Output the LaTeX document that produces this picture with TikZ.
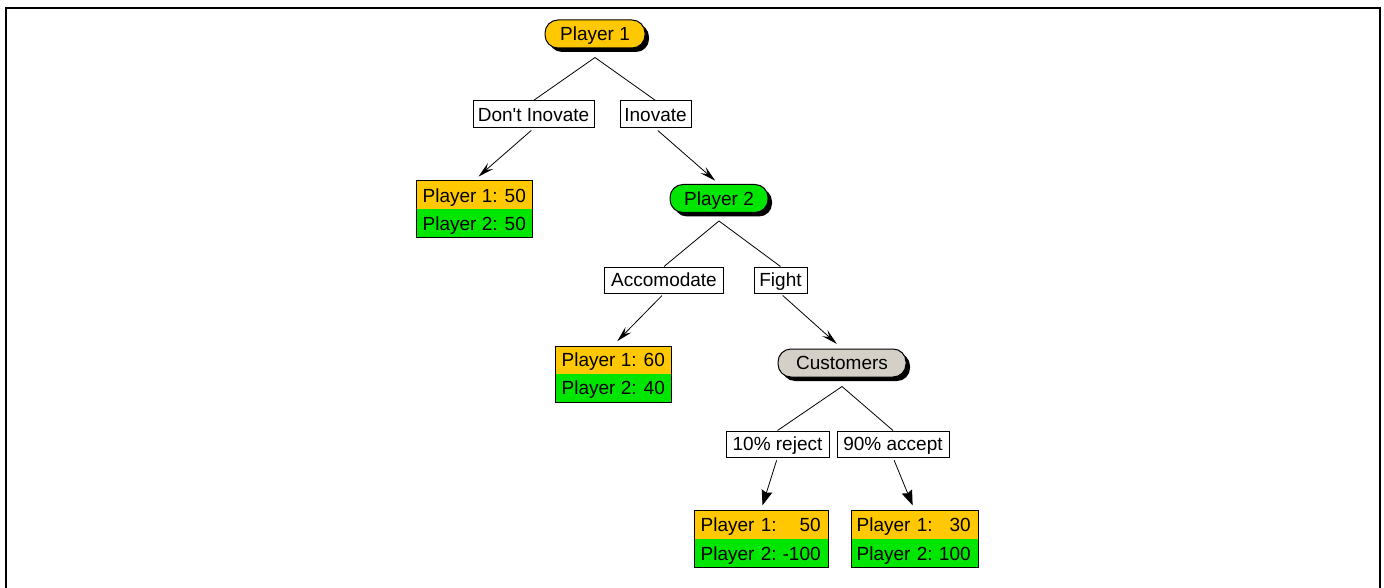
\documentclass[tikz,border=0pt]{standalone}
\usepackage{fontspec}
\setmainfont{Liberation Sans}
\usetikzlibrary{arrows.meta,shadows,calc}
\definecolor{pOrange}{RGB}{255,200,0}
\definecolor{pGreen}{RGB}{0,230,0}
\definecolor{pGray}{RGB}{212,208,200}
\begin{document}
\begin{tikzpicture}[x=1pt,y=-1pt,
  font=\fontsize{19}{22}\selectfont,
  pill/.style={draw=black, line width=1pt, rounded corners=13pt, minimum height=28pt,
    inner sep=0pt, text height=13.6pt, text depth=0pt,
    drop shadow={shadow xshift=4pt, shadow yshift=-4pt, opacity=1, fill=black}},
  lbl/.style={draw, fill=white, line width=1pt, minimum height=27pt, inner sep=0pt,
    text height=13.6pt, text depth=0pt},
  pay/.style={draw, line width=1pt, minimum height=57pt, inner sep=0pt,
    path picture={
      \fill[pOrange] (path picture bounding box.north west) rectangle (path picture bounding box.east);
      \fill[pGreen] (path picture bounding box.west) rectangle (path picture bounding box.south east);}},
  ptxt/.style={anchor=west, inner sep=0pt, text height=13.6pt, text depth=0pt, align=left},
  edge/.style={line width=0.8pt},
  arr/.style={edge, -{Stealth[length=16pt,width=8pt,inset=6pt]}},
  barr/.style={edge, -{Stealth[length=15pt,width=11pt,inset=2pt]}},
]
\useasboundingbox (0,0) rectangle (1384,588);
\fill[white] (0,0) rectangle (1384,588);
\draw[line width=2.4pt] (6,600) -- (6,8) -- (1380,8) -- (1380,600);

% decision / chance nodes
\node[pill, fill=pOrange, minimum width=100pt] (P1) at (595,34) {Player 1};
\node[pill, fill=pGreen, minimum width=98pt] (P2) at (719,198.5) {Player 2};
\node[pill, fill=pGray, minimum width=128pt] (C) at (842,363) {Customers};

% action labels
\node[lbl, minimum width=121pt] (DI) at (533.5,114.5) {Don\textquotesingle t Inovate};
\node[lbl, minimum width=71pt] (IN) at (655.5,114.5) {Inovate};
\node[lbl, minimum width=119pt, minimum height=26pt] (AC) at (664,280) {Accomodate};
\node[lbl, minimum width=53pt, minimum height=26pt] (FI) at (780.5,280) {Fight};
\node[lbl, minimum width=103pt, minimum height=26pt] (RJ) at (777.5,444) {10\% reject};
\node[lbl, minimum width=112pt, minimum height=26pt] (AA) at (893,444) {90\% accept};

% payoff boxes
\node[pay, minimum width=116pt] (B1) at (474,209.5) {};
\node[pay, minimum width=116pt, minimum height=56pt] (B2) at (613,374) {};
\node[pay, minimum width=134pt] (B3) at (761,539) {};
\node[pay, minimum width=127pt] (B4) at (914.5,539) {};

\node[ptxt] (B1a) at ($(B1.west)+(7,-14.25)$) {Player 1: 50};
\node[ptxt] (B1b) at ($(B1.west)+(7,14.25)$) {Player 2: 50};
\node[ptxt] (B2a) at ($(B2.west)+(7,-14)$) {Player 1: 60};
\node[ptxt] (B2b) at ($(B2.west)+(7,14)$) {Player 2: 40};
\node[ptxt, text width=120pt] (B3a) at ($(B3.west)+(7,-14.25)$) {Player 1:\hfill 50};
\node[ptxt, text width=120pt] (B3b) at ($(B3.west)+(7,14.25)$) {Player 2:\hfill -100};
\node[ptxt, text width=114pt] (B4a) at ($(B4.west)+(6,-14.25)$) {Player 1:\hfill 30};
\node[ptxt, text width=114pt] (B4b) at ($(B4.west)+(6,14.25)$) {Player 2:\hfill 100};

% connectors
\draw[edge] ([yshift=-9pt]P1.south) -- (DI.north);
\draw[edge] ([yshift=-9pt]P1.south) -- (IN.north);
\draw[arr, shorten <=3pt, shorten >=6pt] (DI.south) -- (B1.north);
\draw[arr, shorten <=3pt, shorten >=5pt] (IN.south) -- (P2.north);

\draw[edge] ([yshift=-8pt]P2.south) -- (AC.north);
\draw[edge] ([yshift=-8pt]P2.south) -- (FI.north);
\draw[arr, shorten <=3pt, shorten >=6pt] (AC.south) -- (B2.north);
\draw[arr, shorten <=3pt, shorten >=7pt] (FI.south) -- (C.north);

\draw[edge] ([yshift=-9pt]C.south) -- (RJ.north);
\draw[edge] ([yshift=-9pt]C.south) -- (AA.north);
\draw[barr, shorten <=3pt, shorten >=5pt] (RJ.south) -- (B3.north);
\draw[barr, shorten <=3pt, shorten >=5pt] (AA.south) -- (B4.north);
\end{tikzpicture}
\end{document}
